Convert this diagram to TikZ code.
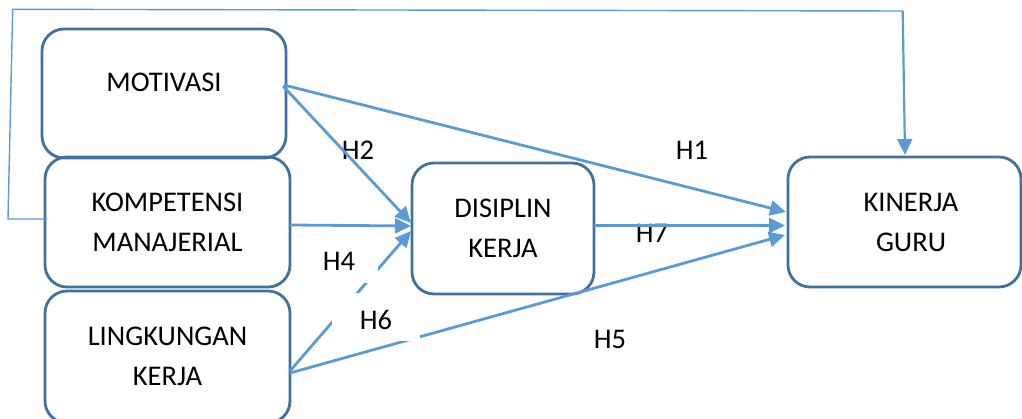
\documentclass[tikz,border=0pt]{standalone}
\usepackage{fontspec}
\setmainfont{Carlito}
\usetikzlibrary{arrows.meta}
\definecolor{boxc}{HTML}{41719C}
\definecolor{arrc}{HTML}{5B9BD5}
\begin{document}
\begin{tikzpicture}[x=1pt,y=-1pt,
  box/.style={draw=boxc, line width=2.8pt, rounded corners=22pt, inner sep=0pt, outer sep=0pt},
  txt/.style={font=\fontsize{28.5}{40}\selectfont, align=center, inner sep=0pt},
  arr/.style={draw=arrc, line width=2.8pt, -{Triangle[length=16pt,width=15pt]}},
  fb/.style={draw=arrc, line width=1.4pt},
  hbg/.style={fill=white, draw=none, inner sep=0pt}]
\useasboundingbox (0,0) rectangle (1022,419);
\clip (0,0) rectangle (1022,419);
% boxes
\node[box, minimum width=244pt, minimum height=129pt] (mot) at (164,93.5) {};
\node[box, minimum width=245pt, minimum height=130pt] (komp) at (167.5,222) {};
\node[box, minimum width=245pt, minimum height=132pt] (ling) at (167.5,357) {};
\node[box, minimum width=182pt, minimum height=131pt] (dis) at (503,228.5) {};
\node[box, minimum width=233pt, minimum height=130pt] (kin) at (904.5,222) {};
% box texts
\node[txt] (motT) at (164,82.5) {MOTIVASI};
\node[txt] (kompT) at (167.5,222) {KOMPETENSI\\MANAJERIAL};
\node[txt] (lingT) at (167.5,356.5) {LINGKUNGAN\\KERJA};
\node[txt] (disT) at (503,228) {DISIPLIN\\KERJA};
\node[txt] (kinT) at (911,222) {KINERJA\\GURU};
% labels under the lines
\node[txt] (h1) at (692,150) {H1};
\node[txt] (h2) at (358,150) {H2};
\node[txt] (h7) at (652,233) {H7};
\node[txt] (h5) at (610,339) {H5};
% connectors
\draw[arr] ([shift={(-2,-8.5)}]mot.east) -- ([shift={(-2,-10)}]kin.west);
\draw[arr] ([shift={(-3,-7.5)}]mot.east) -- ([shift={(-1,-5.5)}]dis.west);
\draw[arr] ([shift={(0,3)}]komp.east) -- ([shift={(-1,-2.5)}]dis.west);
\draw[arr] ([shift={(0,14)}]ling.east) -- ([shift={(-1,2.5)}]dis.west);
\draw[arr] ([shift={(0,16)}]ling.east) -- ([shift={(-3,13)}]kin.west);
\draw[arr] ([shift={(0,-3)}]dis.east) -- ([shift={(-3,3.5)}]kin.west);
% feedback line
\coordinate (f1) at (8,219);
\coordinate (f2) at (12.7,9.3);
\coordinate (f3) at (902.7,11);
\draw[fb] ([shift={(2,-3)}]komp.west) -- (f1) -- (f2) -- (f3);
\draw[arr, line width=2.2pt] (f3) -- ([shift={(0.5,-2)}]kin.north);
% labels with white background
\node[hbg, minimum width=78pt, minimum height=43pt] (h4bg) at (339,261.5) {};
\node[txt] (h4) at (339,261) {H4};
\node[hbg, minimum width=88pt, minimum height=48pt] (h6bg) at (376,317) {};
\node[txt] (h6) at (376,320) {H6};
\end{tikzpicture}
\end{document}
